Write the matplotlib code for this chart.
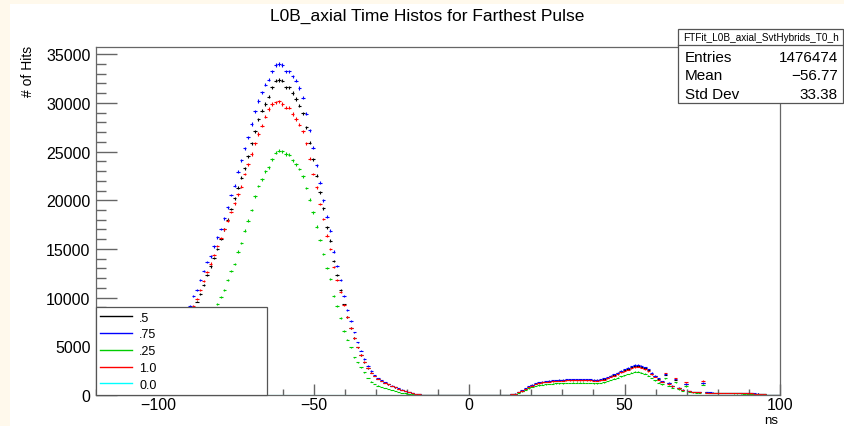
import numpy as np
import matplotlib.pyplot as plt
from matplotlib.lines import Line2D
from matplotlib.patches import Rectangle

plt.rcParams['font.family'] = ['Liberation Sans', 'DejaVu Sans']

# histogram binning: 200 bins from -120 to 100 ns
bin_edges = np.linspace(-120, 100, 201)
bin_centers = (bin_edges[:-1] + bin_edges[1:]) / 2
bin_half = (bin_edges[1] - bin_edges[0]) / 2

# hits per bin
hits_05 = [0] * 10 + [
    30, 80, 170, 320, 530, 800, 1150, 1550, 2000, 2500,
    3050, 3650, 4300, 5000, 5750, 6500, 7300, 8100, 8900, 9600,
    10400, 11300, 12300, 13200, 14100, 15000, 16000, 17000, 18000, 19100,
    20200, 21300, 22300, 23300, 24500, 25850, 27100, 28300, 29200, 29900,
    30640, 31600, 32280, 32350, 32280, 31600, 31600, 31000, 30400, 29700,
    28930, 27500, 25900, 24200, 22500, 20800, 19170, 17220, 15850, 13730,
    12290, 10810, 9300, 7980, 6900, 5850, 4900, 4100, 3350, 2750,
    2300, 1950, 1680, 1450, 1250, 1080, 930, 790, 660, 530,
    410, 300, 210, 130, 75, 35, 15, 5, 0, 0] + [0] * 20 + [
    20, 55, 140, 285, 460, 650, 845, 1010, 1150, 1250,
    1320, 1380, 1420, 1450, 1480, 1500, 1520, 1540, 1555, 1565,
    1575, 1575, 1565, 1555, 1535, 1515, 1505, 1535, 1630, 1775,
    1920, 2060, 2210, 2400, 2540, 2690, 2830, 2960, 3000, 2880,
    2730, 2540, 2200, 1900, 1620, 1380, 2050, 1190, 900, 1580,
    710, 520, 1100, 400, 325, 290, 280, 1200, 260, 250,
    240, 230, 220, 220, 210, 210, 200, 190, 190, 180,
    170, 160, 150, 145, 135, 115, 0, 0, 0, 0]

hits_075 = [0] * 10 + [
    60, 150, 300, 520, 800, 1150, 1550, 2000, 2500, 3100,
    3700, 4400, 5100, 5900, 6700, 7500, 8300, 9170, 10140, 10820,
    11780, 12730, 13690, 14240, 15270, 16200, 17050, 18150, 19280, 20540,
    21500, 22930, 24100, 25330, 26460, 27830, 29130, 30190, 31090, 31870,
    32380, 33240, 33890, 33990, 33890, 33240, 33240, 32730, 32280, 31530,
    30530, 28900, 27200, 25400, 23600, 21800, 20000, 18310, 16870, 14720,
    13250, 11780, 10170, 8760, 7630, 6440, 5410, 4550, 3700, 3010,
    2500, 2050, 1750, 1500, 1300, 1120, 960, 820, 680, 550,
    430, 320, 220, 140, 80, 40, 20, 10, 0, 0] + [0] * 20 + [
    20, 60, 150, 300, 480, 680, 880, 1050, 1200, 1300,
    1380, 1440, 1480, 1510, 1540, 1560, 1580, 1600, 1620, 1630,
    1640, 1640, 1630, 1620, 1600, 1580, 1570, 1600, 1700, 1850,
    2000, 2150, 2300, 2500, 2650, 2800, 2950, 3080, 3120, 3000,
    2850, 2650, 2300, 2000, 1700, 1450, 2150, 1250, 950, 1650,
    750, 550, 1150, 420, 340, 300, 290, 1250, 270, 260,
    250, 240, 230, 230, 220, 220, 210, 200, 200, 190,
    180, 170, 160, 150, 140, 120, 0, 0, 0, 0]

hits_025 = [0] * 17 + [
    20, 60, 140, 280, 500, 800, 1150, 1600, 2100, 2700, 3300, 4000, 4700,
    5400, 6200, 7000, 7800, 8600, 9350, 10030, 10820, 11810, 12770,
    13450, 14720, 15610, 16870, 17900, 19000, 20410, 21460, 22150, 22970,
    23380, 24200, 24880, 25090, 25020, 24750, 24680, 24130, 23720, 23210,
    22460, 21260, 20060, 18760, 17300, 15900, 14500, 13040, 11880, 10200,
    9110, 7880, 6600, 5680, 4900, 3870, 3360, 2840, 2330, 1750,
    1370, 1130, 950, 820, 700, 590, 490, 400, 310, 230,
    160, 100, 55, 25, 10, 0, 0, 0, 0, 0] + [0] * 20 + [
    15, 45, 115, 230, 370, 520, 680, 810, 920, 1000,
    1060, 1110, 1140, 1160, 1185, 1200, 1215, 1230, 1245, 1255,
    1260, 1260, 1255, 1245, 1230, 1215, 1210, 1230, 1310, 1425,
    1540, 1655, 1770, 1925, 2040, 2155, 2270, 2370, 2400, 2300,
    2185, 2000, 1750, 1500, 1280, 1080, 1700, 950, 720, 1300,
    570, 420, 890, 320, 260, 230, 220, 1030, 200, 195,
    185, 185, 175, 175, 170, 170, 160, 155, 155, 145,
    140, 130, 125, 115, 110, 90, 0, 0, 0, 0]

hits_10 = [0] * 10 + [
    50, 130, 270, 470, 730, 1050, 1450, 1900, 2400, 2950,
    3550, 4200, 4900, 5650, 6450, 7250, 8050, 8600, 9100, 9900,
    10800, 11700, 12600, 13500, 14400, 15300, 16100, 17000, 17900, 18800,
    19700, 20600, 21400, 22700, 23720, 24750, 25850, 26800, 27660, 28590,
    29370, 29890, 30060, 30160, 29900, 29500, 29500, 28860, 28350, 27770,
    27080, 25850, 24240, 22700, 21330, 19620, 18080, 16360, 14990, 13110,
    11840, 10550, 9240, 8000, 6900, 5850, 4900, 4100, 3400, 2800,
    2300, 1950, 1680, 1450, 1250, 1080, 930, 790, 660, 530,
    410, 300, 210, 130, 75, 35, 15, 5, 0, 0] + [0] * 20 + [
    18, 55, 140, 280, 445, 630, 820, 975, 1115, 1210,
    1285, 1340, 1375, 1405, 1430, 1450, 1470, 1490, 1505, 1515,
    1525, 1525, 1515, 1505, 1490, 1470, 1460, 1490, 1580, 1720,
    1860, 2000, 2140, 2330, 2460, 2600, 2740, 2860, 2900, 2800,
    2640, 2460, 2150, 1850, 1580, 1350, 2260, 1150, 880, 1720,
    690, 510, 1300, 390, 315, 280, 270, 1470, 250, 240,
    230, 225, 215, 215, 205, 205, 195, 185, 185, 175,
    165, 160, 150, 140, 130, 110, 0, 0, 0, 0]

hits_00 = [0] * 200

series_labels = ['.5', '.75', '.25', '1.0', '0.0']
series_colors = ['black', '#0000ff', '#00cc00', '#ff0000', '#00ffff']
series_hits = [hits_05, hits_075, hits_025, hits_10, hits_00]

W, H = 844, 427
fig = plt.figure(figsize=(W / 100, H / 100), dpi=100)
fig.patch.set_facecolor('#fff9ec')
fig.patches.append(Rectangle((10 / W, 0), 1, 1 - 5 / H, transform=fig.transFigure,
                             facecolor='white', edgecolor='none', zorder=-10))

ax = fig.add_axes([96 / W, 31 / H, 684 / W, 348 / H])
for hits, col in zip(series_hits, series_colors):
    y = np.array(hits, dtype=float)
    ax.errorbar(bin_centers, y, xerr=bin_half, yerr=np.sqrt(y), fmt='none',
                ecolor=col, elinewidth=0.8, capsize=0)

ax.set_xlim(-120, 100)
ax.set_ylim(0, 35740)
ax.set_xticks([-100, -50, 0, 50, 100])
ax.set_xticklabels(['\u2212100', '\u221250', '0', '50', '100'])
ax.set_xticks(np.arange(-120, 101, 10), minor=True)
ax.set_yticks(np.arange(0, 35001, 5000))
ax.set_yticks(np.arange(0, 35001, 1000), minor=True)
ax.tick_params(axis='both', which='both', direction='in', colors='#666666',
               labelcolor='black', labelsize=11.5)
ax.tick_params(axis='y', which='major', length=14.8, width=1, pad=4)
ax.tick_params(axis='y', which='minor', length=7.4, width=1)
ax.tick_params(axis='x', which='major', length=8, width=1, pad=1.5)
ax.tick_params(axis='x', which='minor', length=4, width=1)
for sp in ax.spines.values():
    sp.set_color('#666666')
    sp.set_linewidth(0.9)

handles = [Line2D([], [], color=c, lw=1) for c in series_colors]
leg = ax.legend(handles, series_labels, loc='lower left',
                bbox_to_anchor=(0, 0, 171 / 684, 0.2), mode='expand',
                borderaxespad=0, fancybox=False, fontsize=9,
                labelspacing=0.38, handlelength=2.5, handletextpad=0.6,
                borderpad=0.35)
leg.get_frame().set_edgecolor('#555555')
leg.get_frame().set_linewidth(0.9)
leg.get_frame().set_alpha(1)

fig.text(427 / W, 1 - 16 / H, 'L0B_axial Time Histos for Farthest Pulse',
         ha='center', va='center', fontsize=12.5)
fig.text(28 / W, 1 - 46 / H, '# of Hits', rotation=90, ha='center', va='top',
         fontsize=10)
fig.text(771 / W, 1 - 421 / H, 'ns', ha='center', va='center', fontsize=9.5)

# stats box
bx0, bx1, by0, by1, byt = 678, 843, 30, 104, 46
fig.patches.append(Rectangle((bx0 / W, 1 - by1 / H), (bx1 - bx0) / W, (by1 - by0) / H,
                             transform=fig.transFigure, facecolor='white',
                             edgecolor='#555555', lw=0.9, zorder=5))
fig.add_artist(Line2D([bx0 / W, bx1 / W], [1 - byt / H, 1 - byt / H],
                      transform=fig.transFigure, color='#555555', lw=0.9, zorder=6))
fig.text((bx0 + bx1) / 2 / W, 1 - 38 / H, 'FTFit_L0B_axial_SvtHybrids_T0_h',
         ha='center', va='center', fontsize=7.2, zorder=7)
stats = [('Entries', '1476474'), ('Mean', '\u221256.77'), ('Std Dev', '33.38')]
for k, (name, val) in enumerate(stats):
    yy = 1 - (58 + 18.5 * k) / H
    fig.text(685 / W, yy, name, ha='left', va='center', fontsize=11, zorder=7)
    fig.text(838 / W, yy, val, ha='right', va='center', fontsize=11, zorder=7)

fig.savefig('out.png', dpi=100)
